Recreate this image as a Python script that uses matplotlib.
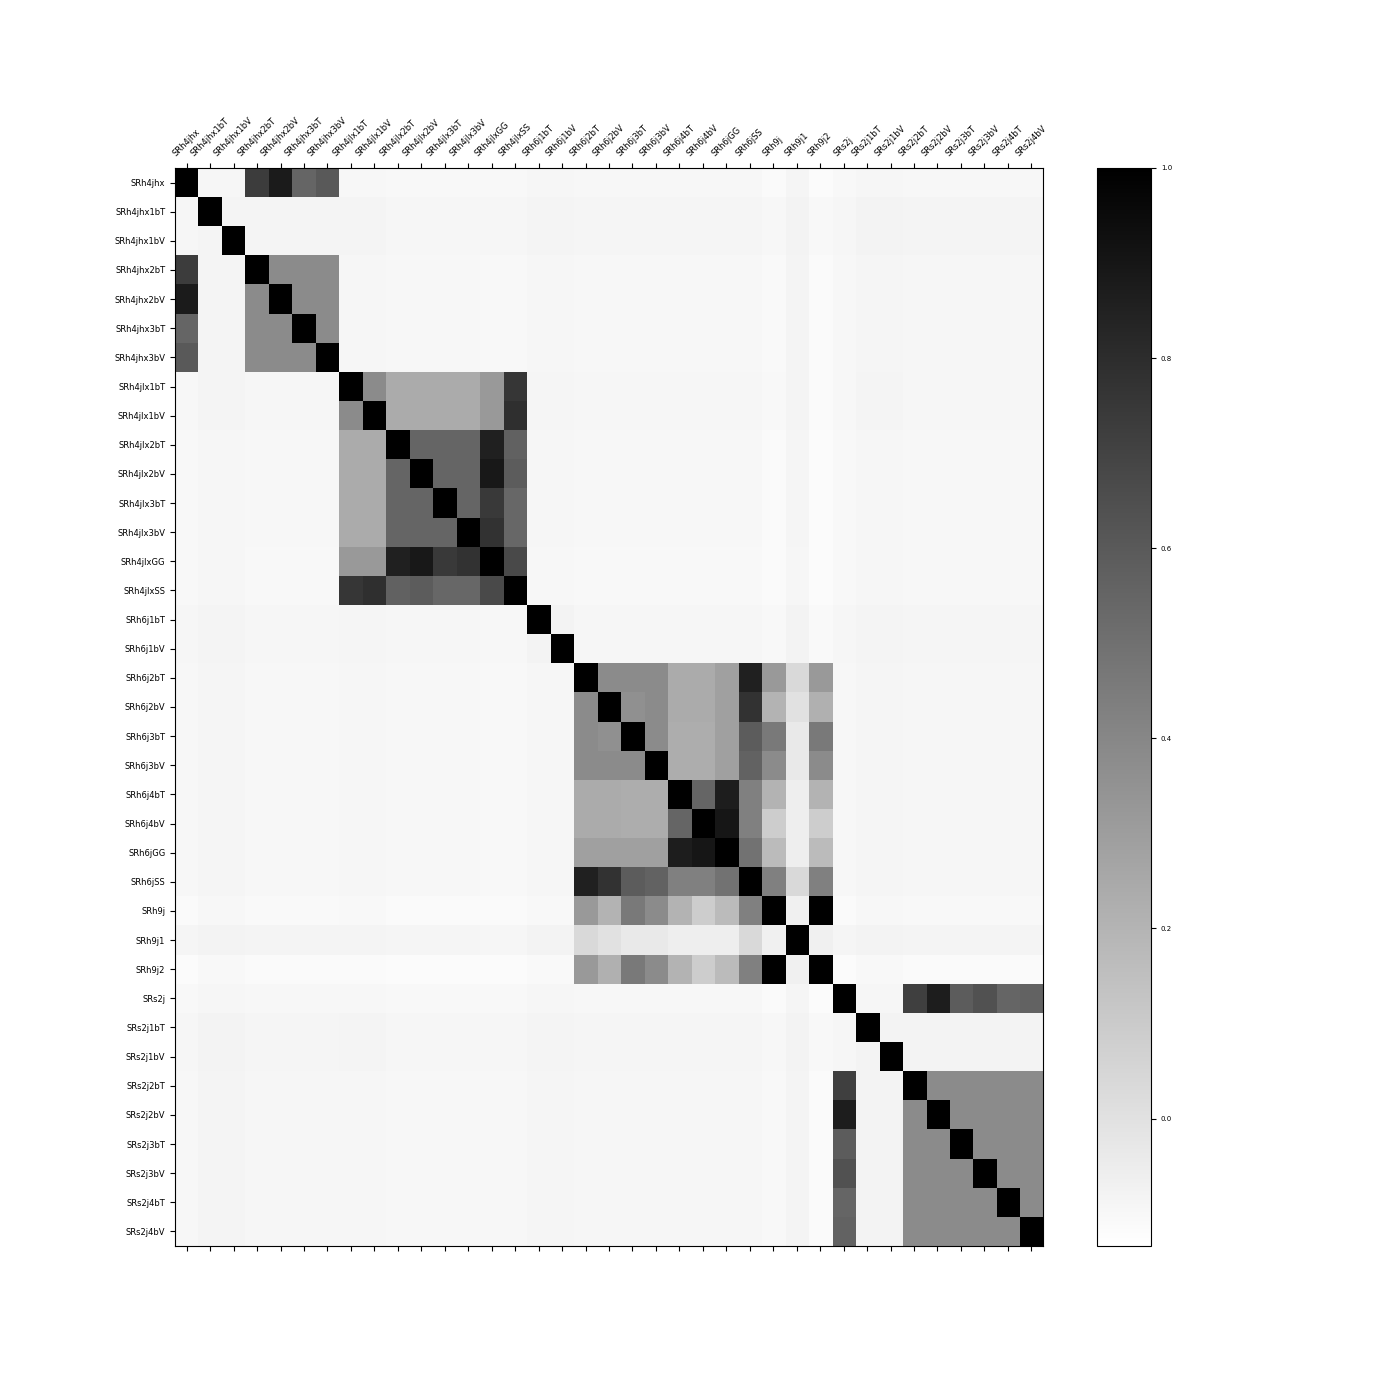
import numpy as np
import matplotlib
matplotlib.use("Agg")
import matplotlib.pyplot as plt

etiquetas = ["SRh4jhx", "SRh4jhx1bT", "SRh4jhx1bV", "SRh4jhx2bT", "SRh4jhx2bV",
             "SRh4jhx3bT", "SRh4jhx3bV", "SRh4jlx1bT", "SRh4jlx1bV", "SRh4jlx2bT",
             "SRh4jlx2bV", "SRh4jlx3bT", "SRh4jlx3bV", "SRh4jlxGG", "SRh4jlxSS",
             "SRh6j1bT", "SRh6j1bV", "SRh6j2bT", "SRh6j2bV", "SRh6j3bT", "SRh6j3bV",
             "SRh6j4bT", "SRh6j4bV", "SRh6jGG", "SRh6jSS", "SRh9j", "SRh9j1", "SRh9j2",
             "SRs2j", "SRs2j1bT", "SRs2j1bV", "SRs2j2bT", "SRs2j2bV", "SRs2j3bT",
             "SRs2j3bV", "SRs2j4bT", "SRs2j4bV"]

# nivel de fondo (correlacion con regiones de otros grupos)
fondo = [-0.10, -0.08, -0.08, -0.095, -0.095, -0.095, -0.095,
         -0.09, -0.09, -0.10, -0.10, -0.10, -0.10, -0.105, -0.105,
         -0.085, -0.085, -0.095, -0.095, -0.095, -0.095, -0.095, -0.095, -0.095, -0.095,
         -0.115, -0.075, -0.125,
         -0.10, -0.08, -0.08, -0.09, -0.09, -0.09, -0.09, -0.09, -0.09]

# bloques de la diagonal: triangulo superior, fila por fila
bloque_hjx = [
    [1, -0.09, -0.09, 0.73, 0.88, 0.55, 0.60],
    [1, -0.085, -0.085, -0.085, -0.085, -0.085],
    [1, -0.085, -0.085, -0.085, -0.085],
    [1, 0.38, 0.38, 0.38],
    [1, 0.38, 0.38],
    [1, 0.38],
    [1],
]
bloque_jlx = [
    [1, 0.38, 0.24, 0.24, 0.24, 0.24, 0.32, 0.76],
    [1, 0.24, 0.24, 0.24, 0.24, 0.32, 0.79],
    [1, 0.55, 0.55, 0.55, 0.85, 0.57],
    [1, 0.55, 0.55, 0.89, 0.59],
    [1, 0.55, 0.74, 0.54],
    [1, 0.77, 0.54],
    [1, 0.67],
    [1],
]
bloque_h6j1b = [
    [1, -0.08],
    [1],
]
bloque_h6j = [
    [1, 0.38, 0.38, 0.38, 0.24, 0.24, 0.29, 0.85, 0.32, 0.035, 0.32],
    [1, 0.36, 0.38, 0.24, 0.24, 0.29, 0.77, 0.20, 0.00, 0.22],
    [1, 0.38, 0.23, 0.23, 0.29, 0.59, 0.46, -0.036, 0.46],
    [1, 0.23, 0.23, 0.29, 0.56, 0.38, -0.036, 0.38],
    [1, 0.55, 0.87, 0.43, 0.20, -0.058, 0.20],
    [1, 0.90, 0.43, 0.09, -0.058, 0.09],
    [1, 0.49, 0.17, -0.058, 0.17],
    [1, 0.43, 0.035, 0.43],
    [1, -0.067, 1.0],
    [1, -0.067],
    [1],
]
bloque_s2j = [
    [1, -0.09, -0.09, 0.72, 0.87, 0.59, 0.64, 0.55, 0.56],
    [1, -0.08, -0.08, -0.08, -0.08, -0.08, -0.08, -0.08],
    [1, -0.08, -0.08, -0.08, -0.08, -0.08, -0.08],
    [1, 0.38, 0.38, 0.38, 0.38, 0.38],
    [1, 0.38, 0.38, 0.38, 0.38],
    [1, 0.38, 0.38, 0.38],
    [1, 0.38, 0.38],
    [1, 0.38],
    [1],
]
bloques = [(0, bloque_hjx), (7, bloque_jlx), (15, bloque_h6j1b),
           (17, bloque_h6j), (28, bloque_s2j)]

n = len(etiquetas)
f = np.array(fondo)
corr = (f[:, None] + f[None, :]) / 2
for inicio, filas in bloques:
    for i, fila in enumerate(filas):
        for k, v in enumerate(fila):
            a, b = inicio + i, inicio + i + k
            corr[a, b] = v
            corr[b, a] = v

fig = plt.figure(figsize=(14, 14), dpi=100)
ax = fig.add_subplot(111)
im = ax.matshow(corr, cmap="gray_r", aspect="auto", vmin=-0.134, vmax=1.0)
ax.set_xticks(range(n))
ax.set_xticklabels(etiquetas, rotation=45, fontsize=6)
ax.set_yticks(range(n))
ax.set_yticklabels(etiquetas, fontsize=6)

cb = fig.colorbar(im)
cb.ax.tick_params(labelsize=5)

fig.savefig("out.png")
